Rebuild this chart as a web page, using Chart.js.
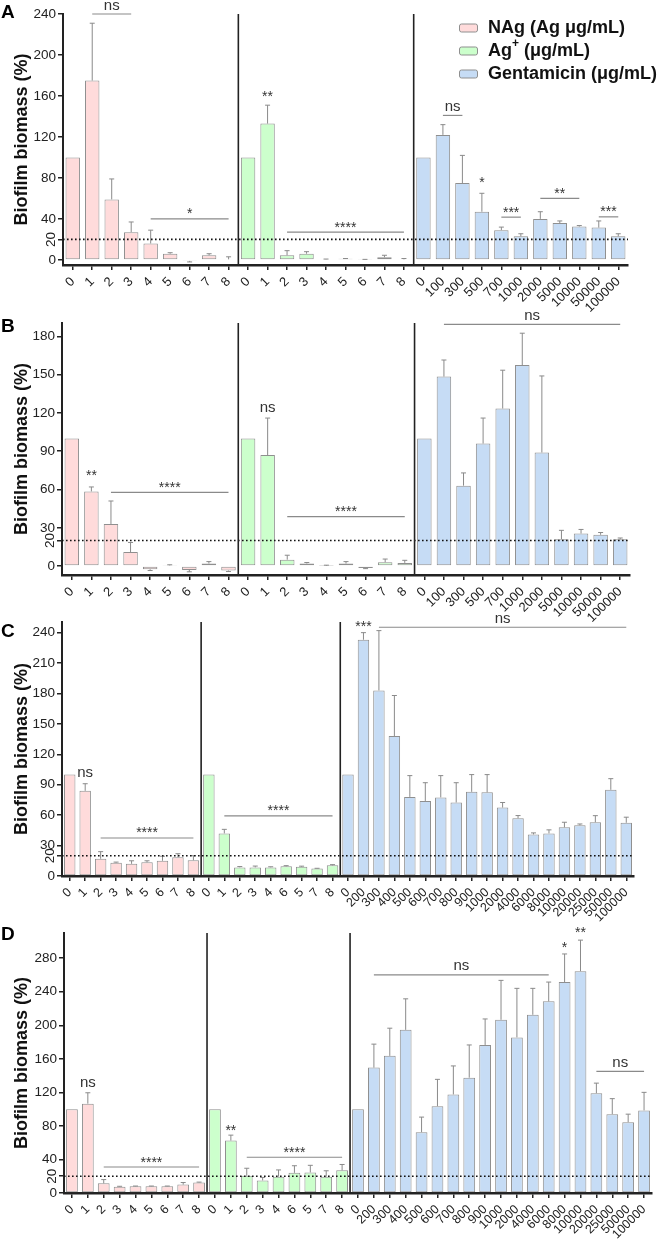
<!DOCTYPE html>
<html>
<head>
<meta charset="utf-8">
<script src="https://cdn.jsdelivr.net/npm/chart.js@4.4.1/dist/chart.umd.min.js"></script>
<style>
  body { margin: 0; background: #fff; width: 658px; height: 1240px; position: relative; overflow: hidden; }
  canvas { position: absolute; left: 0; }
</style>
</head>
<body>
<canvas id="chartA" width="658" height="320" style="top:0px"></canvas>
<canvas id="chartB" width="658" height="320" style="top:310px"></canvas>
<canvas id="chartC" width="658" height="320" style="top:605px"></canvas>
<canvas id="chartD" width="658" height="320" style="top:920px"></canvas>
<script>
// Biofilm biomass panels A-D

const seriesNames = ['NAg (Ag μg/mL)', 'Ag⁺ (μg/mL)', 'Gentamicin (μg/mL)'];

const nagLabels = ['0', '1', '2', '3', '4', '5', '6', '7', '8'];
const agLabels = ['0', '1', '2', '3', '4', '5', '6', '7', '8'];
const agLabelsCD = ['0', '1', '2', '3', '4', '6', '5', '7', '8'];
const gentLabelsAB = ['0', '100', '300', '500', '700', '1000', '2000', '5000', '10000', '50000', '100000'];
const gentLabelsCD = ['0', '200', '300', '400', '500', '600', '700', '800', '900', '1000', '2000', '4000', '6000', '8000', '10000', '20000', '25000', '50000', '100000'];

// Panel A
const nagA = [100, 175, 59, 27, 16, 6, -1, 4.5, 0.5];
const nagAErr = [0, 56, 20, 10, 13, 1, 1, 1.5, 2.5];
const agA = [100, 133, 4.5, 6, 0.5, 1, 0.3, 2.5, 0.5];
const agAErr = [0, 18, 4.5, 2, 0.3, 0.3, 0.2, 2, 0.8];
const gentA = [100, 122, 75, 47, 29, 23, 40, 36, 32.5, 31.5, 23];
const gentAErr = [0, 10, 27, 18, 3, 2.5, 7, 2, 1, 6.5, 2.5];
const ticksA = [0, 20, 40, 80, 120, 160, 200, 240];
const sigA = [[1, 3, 240, 'ns'], [4, 8, 40, '*'], [10, 10, 155.5, '**'], [11, 17, 27, '****'],
  [19, 20, 141, 'ns'], [21, 21, 71.4, '*'], [22, 23, 41.7, '***'], [24, 26, 60, '**'], [27, 28, 42, '***']];

// Panel B
const nagB = [100, 58.5, 33, 11, -2.5, 0.5, -3, 2, -3.5];
const nagBErr = [0, 3.5, 18, 7.5, 1, 0.5, 1.5, 1.5, 0.8];
const agB = [100, 87, 5, 2, 0.2, 2, -1.5, 3, 2.5];
const agBErr = [0, 29, 3.5, 0.8, 0.5, 1.5, 0.5, 2.5, 2];
const gentB = [100, 148.5, 63, 96, 123.5, 157.5, 89, 21, 25.5, 24.5, 21];
const gentBErr = [0, 13, 10, 20, 30, 25, 60, 7, 3.2, 1.8, 1];
const ticksB = [0, 20, 30, 60, 90, 120, 150, 180];
const sigB = [[1, 1, 67.7, '**'], [2, 8, 57.8, '****'], [10, 10, 120.6, 'ns'], [11, 17, 38.7, '****'], [19, 28, 189.5, 'ns']];

// Panel C
const nagC = [100, 84, 17, 13, 12, 13.5, 15, 18.5, 15.5];
const nagCErr = [0, 7, 7, 0.7, 3, 1.5, 4.5, 3.5, 4.5];
const agC = [100, 42, 8.5, 8.5, 8.5, 9.5, 9, 7.3, 10.5];
const agCErr = [0, 4, 0.8, 1.3, 0.6, 0.7, 0.7, 0.3, 0.7];
const gentC = [100, 233, 183, 138, 78, 74, 77.5, 72.5, 83, 82.5, 67.5, 57, 41, 42, 48, 50, 53, 85, 52.5];
const gentCErr = [0, 7, 59, 40, 21, 18, 21.5, 19.5, 17, 17.5, 5, 2.6, 1.5, 3.5, 5, 1.3, 6.5, 11, 5.5];
const ticksC = [0, 20, 30, 60, 90, 120, 150, 180, 210, 240];
const sigC = [[1, 1, 97.2, 'ns'], [2, 8, 37.5, '****'], [10, 17, 59.3, '****'], [19, 19, 241.4, '***'], [20, 36, 245.3, 'ns']];

// Panel D
const nagD = [100, 106.5, 11.5, 7.5, 8, 8, 8, 10, 12.5];
const nagDErr = [0, 13, 4.5, 0.5, 0.3, 0.3, 0.3, 2.5, 0.5];
const agD = [100, 62.5, 20.5, 15, 19.5, 24, 24.5, 19.5, 27];
const agDErr = [0, 6.5, 9, 3.5, 8, 8.5, 8.5, 7, 7];
const gentD = [100, 149.5, 163.5, 194.5, 72.5, 103.5, 117.5, 137.5, 176.5, 206.5, 185.5, 212.5, 228.5, 251.5, 264.5, 119, 94, 84.5, 98.5];
const gentDErr = [0, 28, 33, 37, 18, 32, 34, 39, 31, 47, 58.5, 31.5, 23, 33.5, 37, 12, 18.5, 9.5, 21.5];
const ticksD = [0, 20, 40, 80, 120, 160, 200, 240, 280];
const sigD = [[1, 1, 126.1, 'ns'], [2, 8, 31, '****'], [10, 10, 69.6, '**'], [11, 17, 42.6, '****'],
  [19, 30, 260, 'ns'], [31, 31, 287.2, '*'], [32, 32, 305.1, '**'], [33, 36, 145, 'ns']];

const threshold = 20;

const FONT = "'Liberation Sans', Arial, Helvetica, sans-serif";
const PINK = 'rgb(255,219,219)';
const GREEN = 'rgb(204,255,204)';
const BLUE = 'rgb(198,220,245)';
const EDGE = '#8f8f8f';
const INK = '#222';

Chart.defaults.font.family = FONT;
Chart.defaults.color = INK;

// spread a group's values over the shared category axis
function fillRow(values, offset, total) {
  const row = new Array(total).fill(null);
  values.forEach((v, i) => { row[offset + i] = v; });
  return row;
}

const decor = {
  id: 'decor',
  afterDatasetsDraw(chart, args, opts) {
    const ctx = chart.ctx;
    const xs = chart.scales.x, ys = chart.scales.y, area = chart.chartArea;
    ctx.save();

    // error bars
    ctx.strokeStyle = '#8a8a8a';
    ctx.lineWidth = 1;
    chart.data.datasets.forEach((ds, di) => {
      const meta = chart.getDatasetMeta(di);
      meta.data.forEach((el, j) => {
        const v = ds.data[j], e = ds.errors[j];
        if (v === null || !e) return;
        const sign = v < 0 ? -1 : 1;
        const yEnd = ys.getPixelForValue(v + sign * e);
        ctx.beginPath();
        ctx.moveTo(el.x, el.y);
        ctx.lineTo(el.x, yEnd);
        ctx.moveTo(el.x - 2.5, yEnd);
        ctx.lineTo(el.x + 2.5, yEnd);
        ctx.stroke();
      });
    });

    // dotted 20% line
    const y20 = ys.getPixelForValue(threshold);
    ctx.strokeStyle = '#111';
    ctx.lineWidth = 1.6;
    ctx.setLineDash([1.6, 2.4]);
    ctx.beginPath();
    ctx.moveTo(area.left, y20);
    ctx.lineTo(area.right, y20);
    ctx.stroke();
    ctx.setLineDash([]);

    // group separators
    ctx.strokeStyle = INK;
    ctx.lineWidth = 1.6;
    opts.groups.forEach(g => {
      const sx = (xs.getPixelForValue(g - 1) + xs.getPixelForValue(g)) / 2;
      ctx.beginPath();
      ctx.moveTo(sx, area.top);
      ctx.lineTo(sx, area.bottom);
      ctx.stroke();
    });

    // significance marks
    opts.sig.forEach(([i0, i1, v, label]) => {
      const x0 = xs.getPixelForValue(i0), x1 = xs.getPixelForValue(i1);
      const yy = ys.getPixelForValue(v);
      const isNs = label === 'ns';
      let base = yy;
      if (i0 !== i1) {
        ctx.strokeStyle = '#8a8a8a';
        ctx.lineWidth = 1.2;
        ctx.beginPath();
        ctx.moveTo(x0, yy);
        ctx.lineTo(x1, yy);
        ctx.stroke();
        base = yy - (isNs ? 4.5 : 0.5);
      }
      ctx.fillStyle = '#333';
      ctx.font = (isNs ? '15px ' : '14px ') + FONT;
      ctx.textAlign = 'center';
      ctx.textBaseline = 'alphabetic';
      ctx.fillText(label, (x0 + x1) / 2, base);
    });

    // rotated "20" tick label
    ctx.fillStyle = INK;
    ctx.font = '13.5px ' + FONT;
    ctx.save();
    ctx.translate(area.left - 12, y20);
    ctx.rotate(-Math.PI / 2);
    ctx.textAlign = 'center';
    ctx.textBaseline = 'middle';
    ctx.fillText(String(threshold), 0, 0);
    ctx.restore();

    // panel letter
    ctx.font = 'bold 19px ' + FONT;
    ctx.textAlign = 'left';
    ctx.textBaseline = 'alphabetic';
    ctx.fillStyle = '#000';
    ctx.fillText(opts.letter, 1, opts.letterY);

    // legend (panel A only)
    if (opts.legend) {
      const rows = [28, 51, 74];
      chart.data.datasets.forEach((ds, i) => {
        const ry = rows[i];
        ctx.fillStyle = ds.backgroundColor;
        ctx.strokeStyle = EDGE;
        ctx.lineWidth = 1;
        ctx.beginPath();
        ctx.roundRect(459.5, ry - 4, 18, 8, 2);
        ctx.fill();
        ctx.stroke();
        ctx.fillStyle = '#111';
        ctx.textBaseline = 'middle';
        ctx.textAlign = 'left';
        const parts = ds.label.split('⁺');
        let tx = 488;
        ctx.font = 'bold 18px ' + FONT;
        ctx.fillText(parts[0], tx, ry);
        if (parts.length > 1) {
          tx += ctx.measureText(parts[0]).width;
          ctx.font = 'bold 12px ' + FONT;
          ctx.fillText('+', tx, ry - 7);
          tx += ctx.measureText('+').width;
          ctx.font = 'bold 18px ' + FONT;
          ctx.fillText(parts[1], tx, ry);
        }
      });
    }
    ctx.restore();
  }
};

function makePanel(p) {
  const labels = [...nagLabels, ...p.agLabels, ...p.gentLabels];
  const n = labels.length;
  const o2 = nagLabels.length;
  const o3 = o2 + p.agLabels.length;
  const ds = (label, vals, errs, off, color) => ({
    label: label,
    data: fillRow(vals, off, n),
    errors: fillRow(errs, off, n),
    backgroundColor: color,
    borderColor: EDGE,
    borderWidth: 1,
    borderSkipped: false,
    grouped: false,
    barPercentage: 0.74,
    categoryPercentage: 1
  });

  new Chart(document.getElementById(p.id), {
    type: 'bar',
    data: {
      labels: labels,
      datasets: [
        ds(seriesNames[0], p.nag, p.nagErr, 0, PINK),
        ds(seriesNames[1], p.ag, p.agErr, o2, GREEN),
        ds(seriesNames[2], p.gent, p.gentErr, o3, BLUE)
      ]
    },
    options: {
      responsive: false,
      animation: false,
      events: [],
      layout: { padding: { top: p.padTop, right: p.padRight, left: 0, bottom: 0 } },
      plugins: {
        legend: { display: false },
        tooltip: { enabled: false },
        decor: { letter: p.letter, letterY: p.letterY, sig: p.sig, groups: [o2, o3], legend: p.legend }
      },
      scales: {
        x: {
          offset: true,
          grid: { drawOnChartArea: false, offset: false, tickLength: 5, color: INK, lineWidth: 1.5 },
          border: { display: true, color: INK, width: 2.5 },
          ticks: { autoSkip: false, maxRotation: 45, minRotation: 45, padding: 4, color: INK, font: { size: p.xFont } },
          afterFit(s) { s.height = p.xHeight; s.paddingLeft = 0; s.paddingRight = 0; }
        },
        y: {
          min: p.min,
          max: p.max,
          afterBuildTicks(s) { s.ticks = p.ticks.map(v => ({ value: v })); },
          grid: { drawOnChartArea: false, tickLength: 5, color: INK, lineWidth: 1.5 },
          border: { display: true, color: INK, width: 2 },
          ticks: { padding: 2, color: INK, font: { size: 13.5 }, callback: v => (v === threshold ? '' : v) },
          title: { display: true, text: 'Biofilm biomass (%)', color: '#111', font: { size: 18, weight: 'bold' }, padding: { top: 11, bottom: 0 } },
          afterFit(s) { s.width = p.yWidth; s.paddingTop = 0; s.paddingBottom = 0; }
        }
      }
    },
    plugins: [decor]
  });
}

makePanel({ id: 'chartA', letter: 'A', letterY: 18, legend: true,
  agLabels: agLabels, gentLabels: gentLabelsAB,
  nag: nagA, nagErr: nagAErr, ag: agA, agErr: agAErr, gent: gentA, gentErr: gentAErr,
  ticks: ticksA, sig: sigA, min: -5, max: 240,
  padTop: 14, padRight: 30, yWidth: 63, xHeight: 55, xFont: 13 });

makePanel({ id: 'chartB', letter: 'B', letterY: 22, legend: false,
  agLabels: agLabels, gentLabels: gentLabelsAB,
  nag: nagB, nagErr: nagBErr, ag: agB, agErr: agBErr, gent: gentB, gentErr: gentBErr,
  ticks: ticksB, sig: sigB, min: -7, max: 190.5,
  padTop: 13, padRight: 28, yWidth: 62, xHeight: 55, xFont: 13 });

makePanel({ id: 'chartC', letter: 'C', letterY: 32, legend: false,
  agLabels: agLabelsCD, gentLabels: gentLabelsCD,
  nag: nagC, nagErr: nagCErr, ag: agC, agErr: agCErr, gent: gentC, gentErr: gentCErr,
  ticks: ticksC, sig: sigC, min: 0, max: 250.5,
  padTop: 17, padRight: 24, yWidth: 62, xHeight: 49, xFont: 12.5 });

makePanel({ id: 'chartD', letter: 'D', letterY: 20, legend: false,
  agLabels: agLabelsCD, gentLabels: gentLabelsCD,
  nag: nagD, nagErr: nagDErr, ag: agD, agErr: agDErr, gent: gentD, gentErr: gentDErr,
  ticks: ticksD, sig: sigD, min: 0, max: 310,
  padTop: 13, padRight: 6, yWidth: 64, xHeight: 47, xFont: 12.5 });
</script>
</body>
</html>
